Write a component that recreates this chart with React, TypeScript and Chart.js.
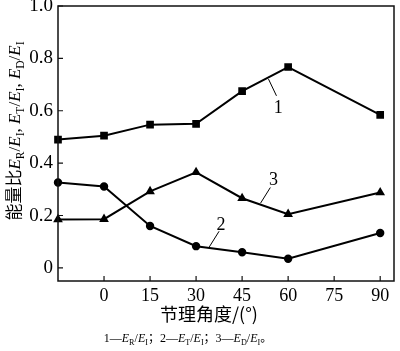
import React, { useEffect, useRef } from "react";
import { Chart, registerables } from "chart.js";
Chart.register(...registerables);

const angles = [-15, 0, 15, 30, 45, 60, 90];
const reflectRatio = [0.49, 0.505, 0.547, 0.55, 0.675, 0.767, 0.584];
const transmitRatio = [0.326, 0.311, 0.16, 0.083, 0.06, 0.035, 0.133];
const dissipateRatio = [0.185, 0.186, 0.292, 0.365, 0.266, 0.205, 0.288];
const xTicks = [0, 15, 30, 45, 60, 75, 90];
const yTicks = [0, 0.2, 0.4, 0.6, 0.8, 1.0];
const xTitle = "节理角度/(°)";

type Run = { t: string; it?: boolean; sub?: boolean; cjk?: boolean };

const yTitleRuns: Run[] = [
  { t: "能量比", cjk: true },
  { t: "E", it: true }, { t: "R", sub: true }, { t: "/" }, { t: "E", it: true }, { t: "I", sub: true }, { t: ", " },
  { t: "E", it: true }, { t: "T", sub: true }, { t: "/" }, { t: "E", it: true }, { t: "I", sub: true }, { t: ", " },
  { t: "E", it: true }, { t: "D", sub: true }, { t: "/" }, { t: "E", it: true }, { t: "I", sub: true },
];

const footRuns: Run[] = [
  { t: "1—" }, { t: "E", it: true }, { t: "R", sub: true }, { t: "/" }, { t: "E", it: true }, { t: "I", sub: true }, { t: "；", cjk: true },
  { t: "2—" }, { t: "E", it: true }, { t: "T", sub: true }, { t: "/" }, { t: "E", it: true }, { t: "I", sub: true }, { t: "；", cjk: true },
  { t: "3—" }, { t: "E", it: true }, { t: "D", sub: true }, { t: "/" }, { t: "E", it: true }, { t: "I", sub: true }, { t: "。", cjk: true },
];

// curve labels with leader lines, in data coordinates
const curveLabels = ["1", "2", "3"];
const labelPos = [
  [56.8, 0.611],
  [38.1, 0.163],
  [55.2, 0.334],
];
const leaderFrom = [
  [53.6, 0.721],
  [34.3, 0.08],
  [51.0, 0.247],
];
const leaderTo = [
  [56.2, 0.657],
  [37.5, 0.14],
  [54.2, 0.307],
];

const SERIF = '"Liberation Serif", "Times New Roman", serif';
const CJK = '"Noto Sans CJK SC", sans-serif';

function runFont(r: Run, size: number) {
  const s = r.sub ? size * 0.68 : size;
  const fam = r.cjk ? CJK : SERIF;
  return `${r.it ? "italic " : ""}${s}px ${fam}`;
}

function drawRuns(ctx: CanvasRenderingContext2D, runs: Run[], cx: number, cy: number, size: number, rotate: boolean) {
  ctx.save();
  ctx.translate(cx, cy);
  if (rotate) ctx.rotate(-Math.PI / 2);
  let total = 0;
  const widths = runs.map((r) => {
    ctx.font = runFont(r, size);
    const w = ctx.measureText(r.t).width;
    total += w;
    return w;
  });
  let x = -total / 2;
  ctx.fillStyle = "#000";
  ctx.textBaseline = "alphabetic";
  ctx.textAlign = "left";
  const base = size * 0.35;
  runs.forEach((r, i) => {
    ctx.font = runFont(r, size);
    ctx.fillText(r.t, x, r.sub ? base + size * 0.22 : base);
    x += widths[i];
  });
  ctx.restore();
}

const decorPlugin = {
  id: "decor",
  afterDraw(chart: any) {
    const ctx: CanvasRenderingContext2D = chart.ctx;
    const { left, right, top, bottom } = chart.chartArea;
    const xs = chart.scales.x;
    const ys = chart.scales.y;
    ctx.save();
    // frame
    ctx.strokeStyle = "#111";
    ctx.lineWidth = 1.5;
    ctx.strokeRect(left, top, right - left, bottom - top);
    // inward ticks
    ctx.lineWidth = 1.2;
    ctx.beginPath();
    xTicks.forEach((v) => {
      const px = xs.getPixelForValue(v);
      ctx.moveTo(px, bottom);
      ctx.lineTo(px, bottom - 5);
    });
    yTicks.forEach((v) => {
      const py = ys.getPixelForValue(v);
      ctx.moveTo(left, py);
      ctx.lineTo(left + 5, py);
    });
    ctx.stroke();
    // curve labels
    ctx.lineWidth = 1;
    ctx.strokeStyle = "#000";
    curveLabels.forEach((lab, i) => {
      ctx.beginPath();
      ctx.moveTo(xs.getPixelForValue(leaderFrom[i][0]), ys.getPixelForValue(leaderFrom[i][1]));
      ctx.lineTo(xs.getPixelForValue(leaderTo[i][0]), ys.getPixelForValue(leaderTo[i][1]));
      ctx.stroke();
      ctx.font = `18px ${SERIF}`;
      ctx.fillStyle = "#000";
      ctx.textAlign = "center";
      ctx.textBaseline = "middle";
      ctx.fillText(lab, xs.getPixelForValue(labelPos[i][0]), ys.getPixelForValue(labelPos[i][1]));
    });
    ctx.restore();
    // titles
    drawRuns(ctx, yTitleRuns, 14, 131, 17, true);
    drawRuns(ctx, [{ t: xTitle, cjk: true }], 209, 315, 18, false);
    drawRuns(ctx, footRuns, 188, 338, 12, false);
  },
};

export default function App() {
  const ref = useRef<HTMLCanvasElement>(null);
  useEffect(() => {
    if (!ref.current) return;
    const common = { borderColor: "#000", backgroundColor: "#000", borderWidth: 2, clip: false as any, tension: 0 };
    const chart = new Chart(ref.current, {
      type: "line",
      data: {
        datasets: [
          { ...common, data: angles.map((a, i) => ({ x: a, y: reflectRatio[i] })), pointStyle: "rect", pointRadius: 4 },
          { ...common, data: angles.map((a, i) => ({ x: a, y: transmitRatio[i] })), pointStyle: "circle", pointRadius: 3.2 },
          { ...common, data: angles.map((a, i) => ({ x: a, y: dissipateRatio[i] })), pointStyle: "triangle", pointRadius: 3.6 },
        ],
      },
      options: {
        animation: false,
        responsive: false,
        layout: { padding: { top: 4, right: 2, left: 0, bottom: 0 } },
        plugins: { legend: { display: false }, tooltip: { enabled: false } },
        scales: {
          x: {
            type: "linear",
            min: -15,
            max: 94.5,
            grid: { display: false, drawTicks: false },
            border: { display: false },
            ticks: { padding: 4, color: "#000", font: { family: SERIF, size: 18 }, callback: (v: any) => String(v) },
            afterBuildTicks: (s: any) => { s.ticks = xTicks.map((v) => ({ value: v })); },
            afterFit: (s: any) => { s.height = 70; s.paddingLeft = 0; s.paddingRight = 0; },
          },
          y: {
            type: "linear",
            min: -0.05,
            max: 1.0,
            grid: { display: false, drawTicks: false },
            border: { display: false },
            ticks: { padding: 5, color: "#000", font: { family: SERIF, size: 19 }, callback: (v: any) => (v === 0 ? "0" : Number(v).toFixed(1)) },
            afterBuildTicks: (s: any) => { s.ticks = yTicks.map((v) => ({ value: v })); },
            afterFit: (s: any) => { s.width = 58; s.paddingTop = 0; s.paddingBottom = 0; },
          },
        },
      } as any,
      plugins: [decorPlugin],
    });
    return () => chart.destroy();
  }, []);
  return (
    <div style={{ position: "absolute", left: 0, top: 0, width: 400, height: 351, background: "#fff" }}>
      <canvas ref={ref} width={400} height={351} />
    </div>
  );
}
